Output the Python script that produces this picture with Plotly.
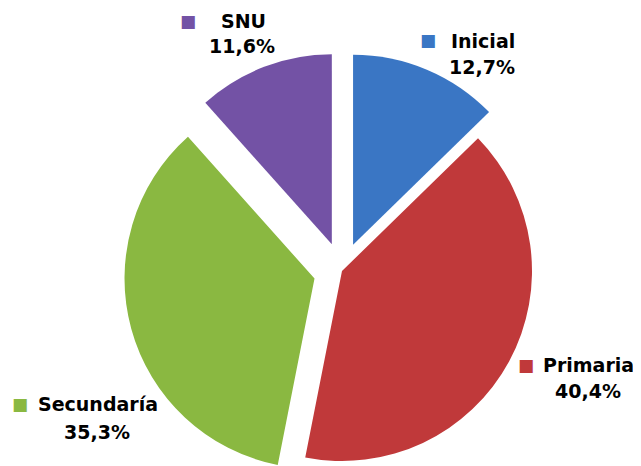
import math
import plotly.graph_objects as go

# ---- data ----
categories = ["Inicial", "Primaria", "Secundaría", "SNU"]
values = [12.7, 40.4, 35.3, 11.6]
pct_labels = ["12,7%", "40,4%", "35,3%", "11,6%"]

# ---- style ----
colors = ["#3a76c4", "#c0393a", "#8ab841", "#7352a5"]
pulls = [0.15, 0.0, 0.15, 0.15]          # explosion as fraction of radius
W, H = 641, 466
OFF = 8                                   # page body margin of the html page
CX, CY, R = 342, 271, 190                 # pie centre and radius in page px

# label layout (page px): name centre, percent centre, square centre
name_pos = [(483, 41), (588, 365), (98, 404), (243, 21)]
pct_pos = [(482, 67), (588, 391), (97, 432), (242, 46)]
sq_pos = [(428, 40), (526, 365), (20, 404), (188, 21)]

FONT = "DejaVu Sans"


def px_x(x):
    return (x - OFF) / W


def px_y(y):
    return 1 - (y - OFF) / H


fig = go.Figure()
total = sum(values)
cum = 0.0
for cat, v, col, p in zip(categories, values, colors, pulls):
    start_deg = cum / total * 360.0
    mid = (cum + v / 2.0) / total * 2 * math.pi
    cx = CX + p * R * math.sin(mid)
    cy = CY - p * R * math.cos(mid)
    x0 = max(0.0, px_x(cx - R))
    x1 = min(1.0, px_x(cx + R))
    y0 = max(0.0, px_y(cy + R))
    y1 = min(1.0, px_y(cy - R))
    fig.add_trace(go.Pie(
        values=[v, total - v],
        labels=[cat, "_rest_" + cat],
        sort=False,
        direction="clockwise",
        rotation=start_deg if start_deg <= 180 else start_deg - 360,
        marker=dict(colors=[col, "rgba(0,0,0,0)"], line=dict(width=0)),
        textinfo="none",
        hoverinfo="skip",
        showlegend=False,
        domain=dict(x=[x0, x1], y=[y0, y1]),
    ))
    cum += v

annotations = []
for cat, pct, col, (nx, ny), (px, py), (sx, sy) in zip(
        categories, pct_labels, colors, name_pos, pct_pos, sq_pos):
    annotations.append(dict(x=px_x(nx), y=px_y(ny), xref="paper", yref="paper",
                            text="<b>%s</b>" % cat, showarrow=False,
                            xanchor="center", yanchor="middle",
                            font=dict(family=FONT, size=19, color="#000000")))
    annotations.append(dict(x=px_x(px), y=px_y(py), xref="paper", yref="paper",
                            text="<b>%s</b>" % pct, showarrow=False,
                            xanchor="center", yanchor="middle",
                            font=dict(family=FONT, size=19, color="#000000")))
    annotations.append(dict(x=px_x(sx), y=px_y(sy), xref="paper", yref="paper",
                            text="■", showarrow=False,
                            xanchor="center", yanchor="middle",
                            font=dict(family=FONT, size=17, color=col)))

fig.update_layout(
    width=W, height=H,
    margin=dict(l=0, r=0, t=0, b=0),
    paper_bgcolor="white", plot_bgcolor="white",
    annotations=annotations,
)

fig.write_html("out.html")
